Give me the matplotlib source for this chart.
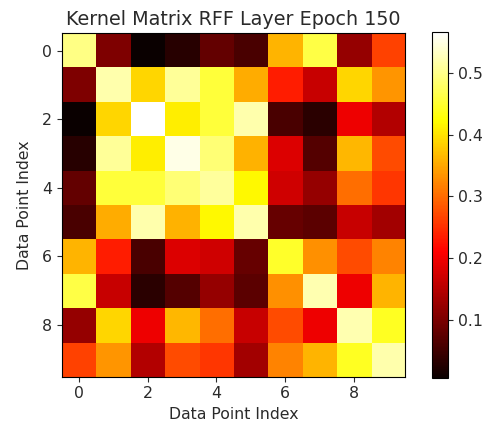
import numpy as np
import matplotlib
matplotlib.use("Agg")
import matplotlib.pyplot as plt

# Kernel matrix values (10 data points)
row0 = [0.497, 0.103, 0.005, 0.030, 0.080, 0.059, 0.361, 0.463, 0.122, 0.265]
row1 = [0.103, 0.520, 0.391, 0.509, 0.457, 0.355, 0.235, 0.164, 0.391, 0.336]
row2 = [0.005, 0.391, 0.567, 0.410, 0.457, 0.520, 0.059, 0.033, 0.197, 0.147]
row3 = [0.030, 0.509, 0.410, 0.553, 0.488, 0.359, 0.181, 0.067, 0.365, 0.273]
row4 = [0.080, 0.457, 0.457, 0.488, 0.511, 0.418, 0.170, 0.122, 0.302, 0.256]
row5 = [0.059, 0.355, 0.520, 0.359, 0.418, 0.520, 0.084, 0.075, 0.164, 0.134]
row6 = [0.361, 0.235, 0.059, 0.181, 0.170, 0.084, 0.447, 0.332, 0.273, 0.319]
row7 = [0.463, 0.164, 0.033, 0.067, 0.122, 0.075, 0.332, 0.522, 0.197, 0.361]
row8 = [0.122, 0.391, 0.197, 0.365, 0.302, 0.164, 0.273, 0.197, 0.522, 0.443]
row9 = [0.265, 0.336, 0.147, 0.273, 0.256, 0.134, 0.319, 0.361, 0.443, 0.520]

K = np.array([row0, row1, row2, row3, row4, row5, row6, row7, row8, row9])

txt = "#2a2a2a"
plt.rcParams["text.color"] = txt
plt.rcParams["axes.labelcolor"] = txt
plt.rcParams["xtick.color"] = txt
plt.rcParams["ytick.color"] = txt
plt.rcParams["xtick.labelsize"] = 11.3
plt.rcParams["ytick.labelsize"] = 11.3

fig = plt.figure(figsize=(4.86, 4.28), dpi=100)
ax = fig.add_axes([0.1276, 0.1192, 0.7058, 0.8037])
cax = fig.add_axes([0.889, 0.1168, 0.033, 0.808])

im = ax.imshow(K, cmap="hot")
fig.colorbar(im, cax=cax)

ax.set_title("Kernel Matrix RFF Layer Epoch 150", fontsize=13.8)
ax.set_xlabel("Data Point Index", fontsize=11.3)
ax.set_ylabel("Data Point Index", fontsize=11.3, labelpad=7.5)

fig.savefig("out.png", dpi=100)
